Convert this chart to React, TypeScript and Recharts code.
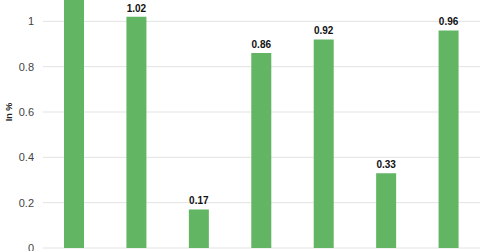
import React from 'react';
import { BarChart, Bar, XAxis, YAxis, CartesianGrid, LabelList } from 'recharts';

const categories = ['A', 'B', 'C', 'D', 'E', 'F', 'G'];
const values = [1.15, 1.02, 0.17, 0.86, 0.92, 0.33, 0.96];
const yTicks = [0, 0.2, 0.4, 0.6, 0.8, 1, 1.2];

const data = categories.map((c, i) => ({ name: c, value: values[i] }));

const YLabel = (props: any) => {
  const vb = props.viewBox || { x: 0, y: 0, width: 43, height: 272 };
  const cx = vb.x + 9;
  const cy = vb.y + vb.height / 2;
  return (
    <text
      x={cx}
      y={cy}
      transform={`rotate(-90 ${cx} ${cy})`}
      textAnchor="middle"
      dominantBaseline="central"
      fontSize={9}
      fontWeight="bold"
      fill="#222"
      fontFamily="Liberation Sans, Arial, sans-serif"
    >
      In %
    </text>
  );
};

export default function App() {
  return (
    <div style={{ position: 'absolute', left: 0, top: -40, background: '#fff' }}>
      <BarChart
        width={480}
        height={300}
        data={data}
        margin={{ top: 16, right: 0, bottom: 12, left: 0 }}
        style={{ fontFamily: 'Liberation Sans, Arial, sans-serif' }}
      >
        <CartesianGrid vertical={false} stroke="#e3e3e3" strokeWidth={1} />
        <XAxis dataKey="name" hide />
        <YAxis
          width={43}
          domain={[0, 1.2]}
          ticks={yTicks}
          axisLine={false}
          tickLine={false}
          tickSize={0}
          tickMargin={9}
          tick={{ fontSize: 11, fill: '#444' }}
          label={{ content: YLabel }}
        />
        <Bar dataKey="value" fill="#62b562" barSize={20} isAnimationActive={false}>
          <LabelList
            dataKey="value"
            position="top"
            fontSize={10}
            fontWeight="bold"
            fill="#111"
            formatter={(v: any) => Number(v).toFixed(2)}
          />
        </Bar>
      </BarChart>
    </div>
  );
}
